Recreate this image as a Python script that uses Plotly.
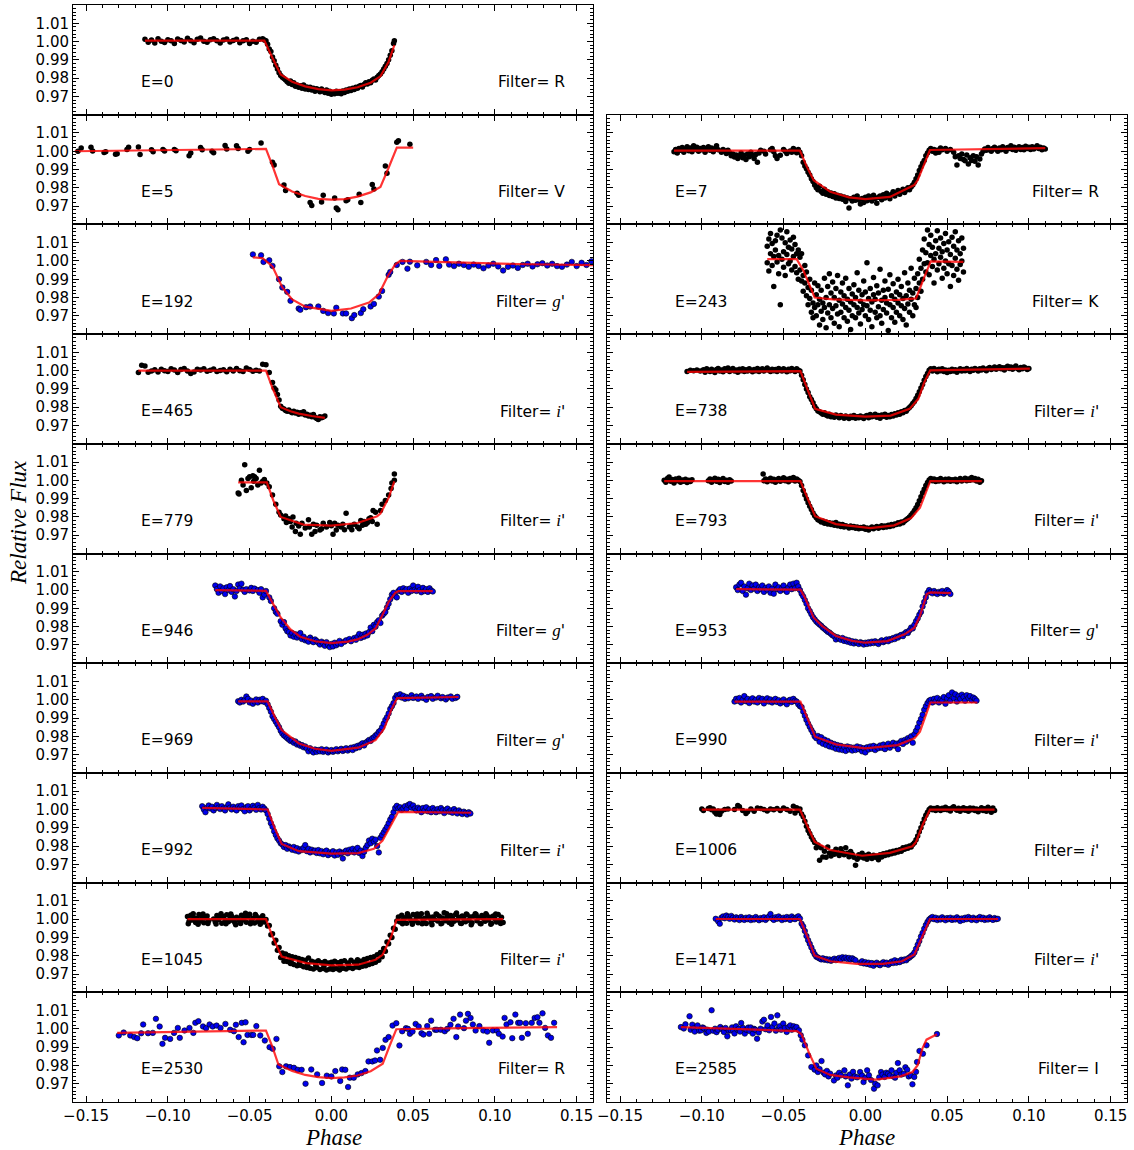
import plotly.graph_objects as go

# ---------------- data: (phase, relative flux) ----------------
E0_points = [(-0.114,1.0012),(-0.112,0.9996),(-0.110,1.0008),(-0.108,0.9992),(-0.106,1.0015),(-0.104,1.0002),(-0.102,0.9995),(-0.100,1.0010),(-0.098,1.0004),(-0.096,0.9990),(-0.094,1.0014),(-0.092,1.0006),(-0.090,0.9998),(-0.088,1.0018),(-0.086,1.0005),(-0.084,0.9994),(-0.082,1.0012),(-0.080,1.0020),(-0.078,1.0002),(-0.076,0.9996),(-0.074,1.0010),(-0.072,1.0016),(-0.070,1.0004),(-0.068,0.9992),(-0.066,1.0008),(-0.064,1.0014),(-0.062,0.9998),(-0.060,1.0006),(-0.058,1.0012),(-0.056,0.9994),(-0.054,1.0004),(-0.052,1.0010),(-0.050,0.9990),(-0.048,1.0002),(-0.046,0.9996),(-0.044,1.0012),(-0.042,1.0015),(-0.041,1.0008),(-0.040,1.0004),
 (-0.039,0.9985),(-0.038,0.9960),(-0.037,0.9945),(-0.036,0.9915),(-0.035,0.9895),(-0.034,0.9870),(-0.033,0.9850),(-0.032,0.9830),(-0.031,0.9815),(-0.030,0.9805),(-0.029,0.9798),(-0.028,0.9790),(-0.027,0.9780),(-0.026,0.9772),(-0.025,0.9785),(-0.024,0.9765),(-0.023,0.9775),(-0.022,0.9755),(-0.021,0.9762),(-0.020,0.9750),(-0.019,0.9758),(-0.018,0.9745),(-0.017,0.9762),(-0.016,0.9740),(-0.015,0.9752),(-0.014,0.9738),(-0.013,0.9750),(-0.012,0.9735),(-0.011,0.9745),(-0.010,0.9728),(-0.009,0.9742),(-0.008,0.9735),(-0.007,0.9725),(-0.006,0.9740),(-0.005,0.9730),(-0.004,0.9722),(-0.003,0.9735),(-0.002,0.9718),(-0.001,0.9728),(0.000,0.9712),(0.001,0.9722),(0.002,0.9715),(0.003,0.9728),(0.004,0.9718),(0.005,0.9725),(0.006,0.9715),(0.007,0.9730),(0.008,0.9722),(0.009,0.9735),(0.010,0.9728),(0.011,0.9740),(0.012,0.9732),(0.013,0.9745),(0.014,0.9738),(0.015,0.9750),(0.016,0.9745),(0.017,0.9755),(0.018,0.9760),(0.019,0.9752),(0.020,0.9765),(0.021,0.9775),(0.022,0.9768),(0.023,0.9780),(0.024,0.9775),(0.025,0.9788),(0.026,0.9795),(0.027,0.9790),(0.028,0.9805),(0.029,0.9815),(0.030,0.9822),(0.031,0.9835),(0.032,0.9850),(0.033,0.9865),(0.034,0.9880),(0.035,0.9900),(0.036,0.9925),(0.037,0.9950),(0.038,0.9990),(0.0385,1.0005)]
E0_model = [(-0.114,1.0005),(-0.041,1.0005),(-0.036,0.9910),(-0.031,0.9820),(-0.024,0.9780),(-0.016,0.9755),(-0.008,0.9740),(0.000,0.9733),(0.008,0.9737),(0.016,0.9750),(0.024,0.9775),(0.030,0.9810),(0.035,0.9890),(0.0385,0.9980)]

E5_points = [(-0.155,1.0000),(-0.153,1.0018),(-0.147,1.0022),(-0.146,1.0002),(-0.139,0.9993),(-0.138,0.9998),(-0.132,0.9983),(-0.131,0.9986),(-0.125,1.0010),(-0.124,1.0022),(-0.118,1.0023),(-0.117,0.9982),(-0.110,1.0008),(-0.109,0.9998),(-0.103,1.0010),(-0.102,1.0002),(-0.096,1.0010),(-0.095,1.0003),(-0.087,0.9975),(-0.086,0.9990),(-0.080,1.0020),(-0.079,1.0008),(-0.073,1.0000),(-0.072,0.9992),(-0.065,1.0032),(-0.064,1.0012),(-0.058,1.0030),(-0.057,1.0015),(-0.051,1.0000),(-0.050,1.0010),(-0.043,1.0045),(-0.036,0.9940),(-0.035,0.9925),(-0.029,0.9815),(-0.028,0.9785),(-0.021,0.9770),(-0.020,0.9760),(-0.013,0.9720),(-0.012,0.9703),(-0.006,0.9722),(-0.005,0.9760),(0.002,0.9745),(0.003,0.9690),(0.004,0.9680),(0.009,0.9730),(0.010,0.9735),(0.017,0.9765),(0.018,0.9720),(0.025,0.9818),(0.026,0.9793),(0.033,0.9920),(0.034,0.9880),(0.040,1.0050),(0.041,1.0057),(0.048,1.0038)]
E5_model = [(-0.157,1.0000),(-0.100,1.0007),(-0.040,1.0013),(-0.036,0.9920),(-0.032,0.9820),(-0.024,0.9780),(-0.016,0.9755),(-0.008,0.9740),(0.000,0.9735),(0.008,0.9738),(0.016,0.9752),(0.024,0.9775),(0.030,0.9805),(0.035,0.9910),(0.040,1.0020),(0.050,1.0020)]

E192_points = [(-0.048,1.0036),(-0.043,1.0031),(-0.0415,0.9995),(-0.038,1.0004),(-0.036,0.9973),(-0.032,0.9900),(-0.030,0.9855),(-0.027,0.9831),(-0.025,0.9782),(-0.020,0.9740),(-0.019,0.9733),(-0.0155,0.9747),(-0.013,0.9751),(-0.008,0.9751),(-0.005,0.9727),(-0.002,0.9715),(0.0015,0.9713),(0.003,0.9744),(0.007,0.9713),(0.009,0.9713),(0.0125,0.9687),(0.014,0.9704),(0.018,0.9715),(0.0195,0.9736),(0.024,0.9751),(0.026,0.9765),(0.029,0.9805),(0.031,0.9836),(0.035,0.9924),(0.036,0.9940),(0.040,0.9978),(0.0435,0.9995),(0.0465,0.9958),(0.048,0.9996),(0.0525,0.9976),(0.058,0.9995),(0.061,0.9978),(0.064,1.0005),(0.066,0.9973),(0.070,1.0009),(0.072,0.9980),(0.075,0.9972),(0.078,0.9985),(0.081,0.9978),(0.084,0.9968),(0.087,0.9980),(0.090,0.9972),(0.093,0.9960),(0.096,0.9975),(0.099,0.9985),(0.102,0.9970),(0.105,0.9948),(0.108,0.9968),(0.111,0.9975),(0.114,0.9962),(0.117,0.9978),(0.120,0.9985),(0.123,0.9970),(0.126,0.9982),(0.129,0.9988),(0.132,0.9975),(0.135,0.9985),(0.138,0.9972),(0.141,0.9968),(0.144,0.9980),(0.147,0.9995),(0.150,0.9972),(0.153,0.9990),(0.156,0.9978),(0.159,0.9998)]
E192_model = [(-0.048,1.0020),(-0.042,1.0015),(-0.036,0.9970),(-0.030,0.9855),(-0.024,0.9790),(-0.016,0.9750),(0.000,0.9727),(0.012,0.9740),(0.023,0.9773),(0.029,0.9818),(0.0345,0.9918),(0.039,0.9980),(0.042,1.0000),(0.080,0.9990),(0.120,0.9982),(0.160,0.9977)]

E465_points = [(-0.118,0.9990),(-0.116,1.0030),(-0.114,1.0025),(-0.112,0.9992),(-0.110,0.9998),(-0.108,1.0005),(-0.106,0.9993),(-0.104,1.0008),(-0.102,1.0000),(-0.100,0.9995),(-0.098,1.0010),(-0.096,1.0003),(-0.094,0.9990),(-0.092,1.0006),(-0.090,1.0012),(-0.088,0.9998),(-0.086,0.9985),(-0.084,0.9993),(-0.082,1.0008),(-0.080,1.0004),(-0.078,1.0010),(-0.076,0.9997),(-0.074,1.0002),(-0.072,1.0009),(-0.070,0.9996),(-0.068,1.0001),(-0.066,1.0005),(-0.064,0.9994),(-0.062,1.0008),(-0.060,0.9998),(-0.058,1.0012),(-0.056,1.0000),(-0.054,0.9995),(-0.052,1.0015),(-0.050,1.0006),(-0.048,0.9997),(-0.046,1.0002),(-0.044,0.9998),(-0.042,1.0035),(-0.040,1.0032),
 (-0.038,0.9990),(-0.036,0.9935),(-0.035,0.9905),(-0.034,0.9895),(-0.033,0.9870),(-0.032,0.9840),(-0.031,0.9805),(-0.030,0.9795),(-0.029,0.9790),(-0.028,0.9782),(-0.027,0.9778),(-0.026,0.9785),(-0.025,0.9775),(-0.024,0.9770),(-0.023,0.9778),(-0.022,0.9768),(-0.021,0.9772),(-0.020,0.9762),(-0.019,0.9770),(-0.018,0.9765),(-0.017,0.9775),(-0.016,0.9758),(-0.015,0.9762),(-0.014,0.9752),(-0.013,0.9756),(-0.012,0.9748),(-0.011,0.9760),(-0.010,0.9745),(-0.009,0.9738),(-0.008,0.9733),(-0.007,0.9748),(-0.006,0.9742),(-0.005,0.9746),(-0.004,0.9752)]
E465_model = [(-0.118,1.0000),(-0.040,1.0000),(-0.036,0.9905),(-0.031,0.9800),(-0.025,0.9778),(-0.020,0.9765),(-0.012,0.9752),(-0.004,0.9742)]

E779_points = [(-0.057,0.9931),(-0.0565,0.9925),(-0.055,1.0000),(-0.054,0.9975),(-0.053,1.0085),(-0.052,0.9945),(-0.051,1.0010),(-0.050,1.0020),(-0.049,0.9960),(-0.048,1.0025),(-0.0475,0.9995),(-0.047,1.0020),(-0.046,1.0010),(-0.045,0.9975),(-0.044,1.0055),(-0.043,0.9985),(-0.042,0.9995),(-0.041,1.0005),(-0.0395,0.9985),(-0.038,0.9965),(-0.036,0.9920),(-0.034,0.9870),(-0.032,0.9825),(-0.031,0.9810),(-0.029,0.9790),(-0.028,0.9805),(-0.0275,0.9770),(-0.026,0.9790),(-0.025,0.9775),(-0.024,0.9745),(-0.0235,0.9800),(-0.022,0.9720),(-0.0215,0.9765),(-0.020,0.9750),(-0.019,0.9705),(-0.018,0.9765),(-0.016,0.9740),(-0.014,0.9785),(-0.0135,0.9745),(-0.012,0.9705),(-0.011,0.9760),(-0.010,0.9720),(-0.009,0.9755),(-0.007,0.9728),(-0.006,0.9735),(-0.005,0.9765),(-0.003,0.9745),(-0.001,0.9770),(0.000,0.9752),(0.001,0.9705),(0.002,0.9765),(0.003,0.9728),(0.004,0.9755),(0.006,0.9745),(0.007,0.9760),(0.008,0.9730),(0.009,0.9820),(0.011,0.9745),(0.012,0.9752),(0.0125,0.9730),(0.014,0.9760),(0.016,0.9745),(0.017,0.9735),(0.018,0.9780),(0.019,0.9755),(0.020,0.9775),(0.021,0.9760),(0.022,0.9768),(0.023,0.9790),(0.024,0.9795),(0.025,0.9775),(0.0255,0.9835),(0.027,0.9825),(0.028,0.9760),(0.030,0.9835),(0.031,0.9870),(0.033,0.9890),(0.035,0.9920),(0.0365,0.9955),(0.037,0.9985),(0.0385,1.0035),(0.0385,1.0000)]
E779_model = [(-0.057,0.9989),(-0.0395,0.9989),(-0.0355,0.9890),(-0.031,0.9800),(-0.017,0.9758),(0.000,0.9753),(0.016,0.9767),(0.028,0.9804),(0.030,0.9818),(0.035,0.9904),(0.0385,0.9995)]

E946_points = [(-0.071,1.0025),(-0.070,1.0005),(-0.069,0.9985),(-0.068,1.0020),(-0.067,0.9995),(-0.066,1.0010),(-0.065,0.9978),(-0.064,1.0015),(-0.063,1.0000),(-0.062,1.0022),(-0.061,0.9990),(-0.060,1.0005),(-0.059,0.9965),(-0.058,0.9995),(-0.057,1.0030),(-0.056,1.0010),(-0.055,1.0035),(-0.054,1.0002),(-0.053,0.9990),(-0.052,1.0005),(-0.050,0.9998),(-0.049,1.0012),(-0.048,0.9995),(-0.047,1.0008),(-0.045,1.0000),(-0.044,0.9985),(-0.043,1.0005),(-0.042,0.9960),(-0.041,0.9975),(-0.040,0.9995),(-0.038,0.9960),(-0.037,0.9940),(-0.035,0.9900),(-0.034,0.9880),(-0.033,0.9870),(-0.031,0.9830),(-0.030,0.9810),(-0.029,0.9825),(-0.028,0.9790),(-0.027,0.9775),(-0.026,0.9770),(-0.025,0.9752),(-0.024,0.9765),(-0.023,0.9745),(-0.022,0.9758),(-0.021,0.9740),(-0.020,0.9752),(-0.019,0.9765),(-0.018,0.9732),(-0.017,0.9745),(-0.016,0.9725),(-0.015,0.9730),(-0.014,0.9718),(-0.013,0.9740),(-0.012,0.9728),(-0.011,0.9715),(-0.010,0.9730),(-0.009,0.9722),(-0.008,0.9712),(-0.007,0.9702),(-0.006,0.9718),(-0.005,0.9708),(-0.004,0.9695),(-0.003,0.9715),(-0.002,0.9700),(-0.001,0.9688),(0.000,0.9705),(0.001,0.9692),(0.002,0.9712),(0.003,0.9698),(0.004,0.9708),(0.005,0.9722),(0.006,0.9705),(0.008,0.9718),(0.009,0.9725),(0.011,0.9732),(0.012,0.9720),(0.014,0.9738),(0.015,0.9728),(0.016,0.9745),(0.017,0.9760),(0.018,0.9738),(0.019,0.9755),(0.020,0.9745),(0.021,0.9762),(0.022,0.9752),(0.023,0.9770),(0.024,0.9795),(0.025,0.9775),(0.026,0.9810),(0.027,0.9800),(0.028,0.9825),(0.029,0.9835),(0.030,0.9820),(0.031,0.9860),(0.032,0.9870),(0.033,0.9880),(0.034,0.9905),(0.035,0.9925),(0.036,0.9950),(0.037,0.9975),(0.038,0.9985),(0.039,0.9968),(0.040,0.9960),(0.041,0.9995),(0.042,1.0005),(0.043,0.9990),(0.044,1.0010),(0.045,0.9998),(0.046,1.0005),(0.047,0.9985),(0.048,1.0008),(0.049,0.9995),(0.050,1.0025),(0.051,1.0002),(0.052,0.9995),(0.053,1.0018),(0.054,1.0000),(0.055,0.9988),(0.056,1.0012),(0.057,0.9995),(0.058,1.0005),(0.059,0.9990),(0.060,1.0010),(0.061,0.9998),(0.062,0.9992)]
E946_model = [(-0.071,1.0000),(-0.040,0.9996),(-0.036,0.9930),(-0.031,0.9850),(-0.025,0.9785),(-0.019,0.9745),(-0.010,0.9720),(0.000,0.9710),(0.010,0.9718),(0.016,0.9730),(0.022,0.9755),(0.027,0.9790),(0.031,0.9860),(0.035,0.9935),(0.039,0.9985),(0.041,0.9994),(0.062,0.9994)]

E969_points = [(-0.057,0.9992),(-0.056,0.9985),(-0.055,1.0000),(-0.054,0.9990),(-0.053,0.9998),(-0.052,1.0018),(-0.051,1.0005),(-0.050,0.9985),(-0.049,0.9995),(-0.048,0.9978),(-0.047,0.9990),(-0.046,1.0002),(-0.045,0.9985),(-0.044,1.0000),(-0.043,0.9992),(-0.042,1.0005),(-0.041,0.9988),(-0.040,0.9995),(-0.039,0.9975),(-0.038,0.9955),(-0.037,0.9935),(-0.036,0.9910),(-0.035,0.9895),(-0.034,0.9880),(-0.033,0.9865),(-0.032,0.9850),(-0.031,0.9830),(-0.030,0.9815),(-0.029,0.9805),(-0.028,0.9798),(-0.027,0.9790),(-0.026,0.9782),(-0.025,0.9775),(-0.024,0.9778),(-0.023,0.9765),(-0.022,0.9772),(-0.021,0.9755),(-0.020,0.9760),(-0.019,0.9748),(-0.018,0.9752),(-0.017,0.9740),(-0.016,0.9745),(-0.015,0.9733),(-0.014,0.9718),(-0.013,0.9735),(-0.012,0.9722),(-0.011,0.9712),(-0.010,0.9728),(-0.009,0.9715),(-0.008,0.9725),(-0.007,0.9718),(-0.006,0.9730),(-0.005,0.9715),(-0.004,0.9722),(-0.003,0.9728),(-0.002,0.9712),(-0.001,0.9720),(0.000,0.9725),(0.001,0.9715),(0.002,0.9722),(0.003,0.9730),(0.004,0.9718),(0.005,0.9725),(0.006,0.9732),(0.007,0.9720),(0.008,0.9728),(0.009,0.9735),(0.010,0.9722),(0.011,0.9730),(0.012,0.9738),(0.013,0.9725),(0.014,0.9742),(0.015,0.9735),(0.016,0.9748),(0.017,0.9740),(0.018,0.9755),(0.019,0.9762),(0.020,0.9750),(0.021,0.9765),(0.022,0.9772),(0.023,0.9780),(0.024,0.9775),(0.025,0.9790),(0.026,0.9795),(0.027,0.9805),(0.028,0.9812),(0.029,0.9825),(0.030,0.9832),(0.031,0.9850),(0.032,0.9870),(0.033,0.9890),(0.034,0.9905),(0.035,0.9925),(0.036,0.9950),(0.037,0.9965),(0.038,0.9982),(0.039,1.0010),(0.040,1.0025),(0.041,1.0018),(0.042,1.0030),(0.043,1.0012),(0.044,1.0022),(0.045,1.0005),(0.046,1.0015),(0.047,1.0008),(0.049,1.0025),(0.050,1.0010),(0.052,1.0018),(0.053,1.0005),(0.055,1.0022),(0.056,1.0010),(0.058,1.0000),(0.059,1.0015),(0.061,1.0020),(0.062,1.0005),(0.064,1.0012),(0.065,1.0022),(0.067,1.0008),(0.068,1.0015),(0.070,1.0002),(0.071,1.0012),(0.073,1.0018),(0.074,1.0005),(0.076,1.0010),(0.077,1.0016)]
E969_model = [(-0.057,0.9991),(-0.039,0.9991),(-0.0345,0.9905),(-0.0304,0.9834),(-0.0198,0.9761),(-0.010,0.9732),(0.000,0.9720),(0.0164,0.9738),(0.027,0.9779),(0.0323,0.9843),(0.0366,0.9945),(0.0402,1.0009),(0.0777,1.0015)]

E992_points = [(-0.079,1.0018),(-0.078,1.0000),(-0.077,0.9985),(-0.076,1.0010),(-0.075,1.0022),(-0.074,1.0005),(-0.073,1.0015),(-0.072,0.9995),(-0.071,1.0008),(-0.070,1.0025),(-0.069,1.0010),(-0.068,1.0002),(-0.067,1.0018),(-0.066,1.0005),(-0.065,0.9995),(-0.064,1.0012),(-0.063,1.0028),(-0.062,1.0010),(-0.061,1.0000),(-0.060,1.0015),(-0.059,1.0005),(-0.058,0.9995),(-0.057,1.0018),(-0.056,1.0008),(-0.055,1.0022),(-0.054,1.0002),(-0.053,0.9990),(-0.052,1.0012),(-0.051,1.0018),(-0.050,0.9995),(-0.049,1.0005),(-0.048,1.0020),(-0.047,1.0010),(-0.046,0.9998),(-0.045,1.0025),(-0.044,1.0008),(-0.043,1.0000),(-0.042,1.0015),(-0.041,1.0005),(-0.040,0.9995),(-0.039,0.9975),(-0.038,0.9950),(-0.037,0.9925),(-0.036,0.9905),(-0.035,0.9880),(-0.034,0.9860),(-0.033,0.9842),(-0.032,0.9830),(-0.031,0.9815),(-0.030,0.9808),(-0.029,0.9795),(-0.028,0.9805),(-0.027,0.9785),(-0.026,0.9798),(-0.025,0.9790),(-0.024,0.9780),(-0.023,0.9795),(-0.022,0.9775),(-0.021,0.9788),(-0.020,0.9770),(-0.019,0.9782),(-0.018,0.9778),(-0.017,0.9790),(-0.016,0.9805),(-0.015,0.9772),(-0.014,0.9785),(-0.013,0.9765),(-0.012,0.9780),(-0.011,0.9770),(-0.010,0.9775),(-0.009,0.9762),(-0.008,0.9778),(-0.007,0.9760),(-0.006,0.9772),(-0.005,0.9755),(-0.004,0.9768),(-0.003,0.9775),(-0.002,0.9750),(-0.001,0.9765),(0.000,0.9758),(0.001,0.9772),(0.002,0.9748),(0.003,0.9765),(0.004,0.9752),(0.005,0.9770),(0.006,0.9760),(0.007,0.9732),(0.008,0.9768),(0.009,0.9775),(0.010,0.9760),(0.011,0.9780),(0.012,0.9770),(0.013,0.9785),(0.014,0.9765),(0.015,0.9778),(0.016,0.9790),(0.017,0.9762),(0.018,0.9775),(0.019,0.9745),(0.020,0.9768),(0.021,0.9790),(0.022,0.9805),(0.023,0.9830),(0.024,0.9815),(0.025,0.9840),(0.026,0.9825),(0.027,0.9835),(0.028,0.9800),(0.029,0.9765),(0.030,0.9845),(0.031,0.9860),(0.032,0.9875),(0.033,0.9890),(0.034,0.9905),(0.035,0.9925),(0.036,0.9945),(0.037,0.9960),(0.038,0.9985),(0.039,1.0008),(0.040,1.0020),(0.041,1.0005),(0.042,1.0012),(0.043,0.9998),(0.044,1.0005),(0.045,1.0018),(0.046,1.0002),(0.047,1.0025),(0.048,1.0030),(0.049,1.0010),(0.050,1.0022),(0.051,1.0005),(0.052,0.9995),(0.053,1.0010),(0.054,1.0002),(0.055,0.9985),(0.056,1.0008),(0.057,0.9995),(0.058,1.0012),(0.059,0.9990),(0.060,1.0002),(0.061,0.9985),(0.062,1.0008),(0.063,0.9995),(0.064,0.9985),(0.065,1.0002),(0.066,0.9990),(0.067,1.0008),(0.068,0.9995),(0.069,0.9980),(0.070,0.9998),(0.071,1.0005),(0.072,0.9988),(0.073,0.9995),(0.074,0.9982),(0.075,1.0002),(0.076,0.9990),(0.077,0.9978),(0.078,0.9995),(0.079,0.9985),(0.080,0.9975),(0.081,0.9988),(0.082,0.9980),(0.083,0.9972),(0.084,0.9985),(0.085,0.9978)]
E992_model = [(-0.079,1.0009),(-0.039,1.0000),(-0.035,0.9905),(-0.0304,0.9811),(-0.0198,0.9772),(0.000,0.9758),(0.0164,0.9761),(0.026,0.9785),(0.0313,0.9830),(0.0366,0.9919),(0.0409,0.9987),(0.0855,0.9982)]

E1045_points = [(-0.088,1.0015),(-0.087,0.9988),(-0.086,1.0022),(-0.085,0.9995),(-0.084,1.0008),(-0.083,0.9982),(-0.082,1.0003),(-0.081,1.0025),(-0.080,0.9990),(-0.079,1.0012),(-0.078,0.9980),(-0.077,1.0006),(-0.076,1.0018),(-0.075,0.9992),(-0.072,1.0001),(-0.071,0.9985),(-0.070,1.0020),(-0.069,0.9997),(-0.068,1.0010),(-0.067,0.9978),(-0.066,1.0014),(-0.065,0.9994),(-0.064,1.0024),(-0.063,0.9986),(-0.062,1.0004),(-0.061,1.0016),(-0.060,0.9991),(-0.059,0.9981),(-0.058,1.0011),(-0.057,1.0002),(-0.056,0.9988),(-0.055,1.0021),(-0.054,0.9996),(-0.053,1.0009),(-0.052,0.9983),(-0.051,1.0013),(-0.050,1.0027),(-0.049,0.9993),(-0.048,1.0005),(-0.047,0.9979),(-0.046,1.0017),(-0.045,0.9989),(-0.044,1.0007),(-0.043,0.9998),(-0.042,1.0019),(-0.041,0.9984),
 (-0.0875,0.9975),(-0.0845,1.0030),(-0.0815,0.9972),(-0.0785,1.0028),(-0.0755,0.9976),(-0.0705,0.9973),(-0.0675,1.0030),(-0.0645,0.9975),(-0.0615,1.0028),(-0.0585,0.9970),(-0.0555,0.9976),(-0.0525,1.0032),(-0.0495,0.9975),(-0.0465,1.0026),(-0.0435,0.9972),
 (-0.040,0.9998),(-0.039,0.9962),(-0.038,0.9965),(-0.037,0.9915),(-0.036,0.9920),(-0.035,0.9870),(-0.034,0.9885),(-0.033,0.9830),(-0.032,0.9845),(-0.031,0.9790),(-0.030,0.9815),(-0.029,0.9770),(-0.028,0.9810),(-0.027,0.9768),(-0.026,0.9800),(-0.025,0.9758),(-0.024,0.9795),(-0.023,0.9752),(-0.022,0.9790),(-0.021,0.9745),(-0.020,0.9785),(-0.019,0.9748),(-0.018,0.9780),(-0.017,0.9740),(-0.016,0.9775),(-0.015,0.9735),(-0.014,0.9788),(-0.013,0.9732),(-0.012,0.9770),(-0.011,0.9728),(-0.010,0.9765),(-0.009,0.9735),(-0.008,0.9772),(-0.007,0.9725),(-0.006,0.9762),(-0.005,0.9730),(-0.004,0.9768),(-0.003,0.9722),(-0.002,0.9760),(-0.001,0.9728),(0.000,0.9765),(0.001,0.9725),(0.002,0.9770),(0.003,0.9730),(0.004,0.9762),(0.005,0.9722),(0.006,0.9768),(0.007,0.9732),(0.008,0.9772),(0.009,0.9728),(0.010,0.9760),(0.011,0.9735),(0.012,0.9775),(0.013,0.9730),(0.014,0.9765),(0.015,0.9738),(0.016,0.9778),(0.017,0.9735),(0.018,0.9770),(0.019,0.9742),(0.020,0.9780),(0.021,0.9745),(0.022,0.9785),(0.023,0.9752),(0.024,0.9790),(0.025,0.9758),(0.026,0.9795),(0.027,0.9765),(0.028,0.9805),(0.029,0.9775),(0.030,0.9818),(0.031,0.9795),(0.032,0.9840),(0.033,0.9825),(0.034,0.9875),(0.035,0.9865),(0.036,0.9912),(0.037,0.9900),(0.038,0.9950),(0.039,0.9945),(0.040,0.9990),
 (-0.0295,0.9790),(-0.0245,0.9775),(-0.0195,0.9765),(-0.0145,0.9752),(-0.0095,0.9748),(-0.0045,0.9745),(0.0005,0.9742),(0.0055,0.9748),(0.0105,0.9750),(0.0155,0.9755),(0.0205,0.9762),(0.0255,0.9775),
 (0.041,1.0012),(0.042,0.9985),(0.043,1.0022),(0.044,0.9995),(0.045,1.0008),(0.046,0.9978),(0.047,1.0018),(0.048,1.0003),(0.049,0.9988),(0.050,1.0025),(0.051,0.9992),(0.052,1.0010),(0.053,0.9980),(0.054,1.0015),(0.055,1.0030),(0.056,0.9995),(0.057,1.0005),(0.058,0.9976),(0.059,1.0020),(0.060,1.0008),(0.061,0.9985),(0.062,1.0012),(0.063,0.9998),(0.064,1.0028),(0.065,0.9990),(0.066,1.0016),(0.067,0.9975),(0.068,1.0006),(0.069,1.0035),(0.070,0.9992),(0.071,1.0012),(0.072,0.9982),(0.073,1.0020),(0.074,1.0004),(0.075,0.9988),(0.076,1.0026),(0.077,0.9996),(0.078,1.0010),(0.079,0.9978),(0.080,1.0018),(0.081,1.0002),(0.082,0.9986),(0.083,1.0024),(0.084,0.9994),(0.085,1.0012),(0.086,0.9980),(0.087,1.0016),(0.088,1.0030),(0.089,0.9992),(0.090,1.0008),(0.091,0.9976),(0.092,1.0020),(0.093,1.0004),(0.094,0.9988),(0.095,1.0022),(0.096,0.9996),(0.097,1.0010),(0.098,0.9978),(0.099,1.0018),(0.100,1.0002),(0.101,0.9985),(0.102,1.0025),(0.103,0.9994),(0.104,1.0010),(0.105,0.9982),
 (0.0435,0.9975),(0.0465,1.0030),(0.0495,0.9972),(0.0525,1.0028),(0.0555,0.9975),(0.0585,1.0032),(0.0615,0.9970),(0.0645,1.0025),(0.0675,0.9978),(0.0705,1.0030),(0.0735,0.9972),(0.0765,1.0034),(0.0795,0.9976),(0.0825,1.0028),(0.0855,0.9970),(0.0885,1.0026),(0.0915,0.9975),(0.0945,1.0030),(0.0975,0.9972),(0.1005,1.0028),(0.1035,0.9976)]
E1045_model = [(-0.088,1.0000),(-0.040,1.0000),(-0.036,0.9905),(-0.0304,0.9796),(-0.0155,0.9760),(0.000,0.9747),(0.0164,0.9751),(0.027,0.9778),(0.0313,0.9805),(0.0366,0.9905),(0.0398,0.9996),(0.105,1.0000)]

E2530_points = [(-0.130,0.9964),(-0.127,0.9980),(-0.123,0.9964),(-0.1206,0.9955),(-0.1187,0.9949),(-0.1163,0.9976),(-0.1151,1.0024),(-0.1121,0.9976),(-0.1092,0.9978),(-0.1073,1.0055),(-0.1050,1.0013),(-0.1033,0.9918),(-0.1017,0.9951),(-0.0986,0.9945),(-0.0962,0.9978),(-0.0939,1.0005),(-0.0927,0.9951),(-0.0898,0.9991),(-0.0868,1.0005),(-0.0844,0.9978),(-0.0832,1.0033),(-0.0813,1.0042),(-0.0785,1.0013),(-0.0766,1.0004),(-0.0745,1.0024),(-0.0726,1.0013),(-0.0702,1.0018),(-0.0678,1.0005),(-0.0648,1.0027),(-0.0619,0.9995),(-0.0596,0.9987),(-0.0584,1.0022),(-0.0567,0.9955),(-0.0548,1.0033),(-0.0537,0.9927),(-0.0525,1.0036),(-0.0513,0.9967),(-0.0489,0.9967),(-0.0478,0.9967),(-0.0459,1.0015),(-0.0435,0.9964),(-0.0407,0.9936),(-0.0378,0.9900),(-0.0359,0.9891),(-0.0336,0.9945),(-0.0319,0.9795),(-0.0300,0.9764),(-0.0277,0.9795),(-0.0253,0.9791),(-0.0229,0.9787),(-0.0206,0.9776),(-0.0182,0.9776),(-0.0158,0.9700),(-0.0123,0.9778),(-0.0087,0.9751),(-0.0057,0.9704),(-0.0028,0.9744),(0.0000,0.9740),(0.0024,0.9769),(0.0054,0.9715),(0.0066,0.9778),(0.0085,0.9776),(0.0102,0.9682),(0.0113,0.9733),(0.0137,0.9733),(0.0161,0.9751),(0.0184,0.9758),(0.0208,0.9769),(0.0227,0.9822),(0.0251,0.9822),(0.0267,0.9827),(0.0279,0.9882),(0.0298,0.9831),(0.0314,0.9896),(0.0331,0.9940),(0.0350,0.9955),(0.0374,1.0018),(0.0397,1.0031),(0.0416,0.9909),(0.0433,0.9987),(0.0456,1.0004),(0.0468,1.0000),(0.0480,0.9973),(0.0496,0.9985),(0.0515,1.0027),(0.0534,1.0013),(0.0551,0.9976),(0.0563,0.9969),(0.0586,1.0015),(0.0598,0.9973),(0.0610,1.0045),(0.0634,0.9995),(0.0645,0.9995),(0.0669,0.9995),(0.0693,0.9987),(0.0709,1.0000),(0.0728,1.0022),(0.0747,1.0055),(0.0764,0.9955),(0.0775,1.0013),(0.0787,1.0078),(0.0811,1.0004),(0.0823,1.0045),(0.0835,1.0082),(0.0851,1.0060),(0.0865,1.0024),(0.0882,0.9991),(0.0905,1.0015),(0.0929,0.9991),(0.0953,0.9985),(0.0965,0.9924),(0.0988,0.9991),(0.1012,0.9991),(0.1024,0.9973),(0.1047,0.9958),(0.1059,1.0060),(0.1071,1.0024),(0.1095,1.0036),(0.1106,0.9949),(0.1125,1.0078),(0.1142,1.0033),(0.1154,1.0033),(0.1165,0.9951),(0.1189,1.0031),(0.1201,0.9973),(0.1225,1.0033),(0.1243,1.0060),(0.1260,1.0064),(0.1272,1.0033),(0.1291,1.0085),(0.1307,1.0005),(0.1324,0.9964),(0.1343,0.9951),(0.1362,1.0033)]
E2530_model = [(-0.131,0.9978),(-0.080,0.9985),(-0.040,0.9991),(-0.036,0.9900),(-0.0324,0.9805),(-0.024,0.9770),(-0.016,0.9748),(-0.008,0.9736),(0.000,0.9731),(0.008,0.9735),(0.016,0.9745),(0.024,0.9768),(0.0314,0.9809),(0.0355,0.9905),(0.0397,0.9998),(0.080,1.0004),(0.138,1.0009)]

E7_points = [(-0.117,0.9998),(-0.116,1.0010),(-0.115,0.9990),(-0.114,1.0015),(-0.113,1.0005),(-0.112,1.0020),(-0.111,0.9995),(-0.110,1.0012),(-0.109,1.0025),(-0.108,1.0003),(-0.107,1.0018),(-0.106,0.9998),(-0.105,1.0030),(-0.104,1.0010),(-0.103,1.0022),(-0.102,1.0000),(-0.101,1.0015),(-0.100,1.0008),(-0.099,1.0020),(-0.098,0.9995),(-0.097,1.0012),(-0.096,1.0025),(-0.095,1.0005),(-0.094,1.0018),(-0.093,0.9998),(-0.092,1.0010),(-0.091,1.0030),(-0.090,1.0008),(-0.088,0.9995),(-0.087,1.0010),(-0.086,1.0002),(-0.085,0.9988),(-0.084,1.0005),(-0.083,0.9992),(-0.082,0.9975),(-0.081,0.9985),(-0.080,0.9968),(-0.079,0.9980),(-0.078,0.9960),(-0.077,0.9975),(-0.076,0.9990),(-0.075,0.9965),(-0.074,0.9978),(-0.073,0.9955),(-0.072,0.9985),(-0.071,0.9970),(-0.070,0.9995),(-0.069,0.9978),(-0.068,0.9960),(-0.067,0.9982),(-0.066,0.9940),(-0.065,0.9990),(-0.064,1.0005),(-0.062,1.0000),(-0.061,0.9985),(-0.058,1.0008),(-0.057,1.0015),(-0.056,0.9998),(-0.055,0.9975),(-0.054,0.9960),(-0.052,0.9978),(-0.050,1.0010),(-0.049,1.0000),(-0.048,0.9988),(-0.046,1.0002),(-0.045,0.9995),(-0.044,1.0015),(-0.043,1.0005),(-0.042,0.9992),(-0.041,1.0010),(-0.040,0.9995),
 (-0.039,0.9975),(-0.038,0.9940),(-0.037,0.9920),(-0.036,0.9905),(-0.035,0.9885),(-0.034,0.9870),(-0.033,0.9850),(-0.032,0.9835),(-0.031,0.9815),(-0.030,0.9800),(-0.029,0.9790),(-0.028,0.9808),(-0.027,0.9780),(-0.026,0.9770),(-0.025,0.9792),(-0.024,0.9765),(-0.023,0.9778),(-0.022,0.9758),(-0.021,0.9772),(-0.020,0.9752),(-0.019,0.9768),(-0.018,0.9745),(-0.017,0.9760),(-0.016,0.9742),(-0.015,0.9755),(-0.014,0.9738),(-0.013,0.9750),(-0.012,0.9725),(-0.011,0.9745),(-0.010,0.9690),(-0.009,0.9740),(-0.008,0.9728),(-0.007,0.9748),(-0.006,0.9732),(-0.005,0.9755),(-0.004,0.9735),(-0.003,0.9712),(-0.002,0.9742),(-0.001,0.9720),(0.000,0.9748),(0.001,0.9730),(0.002,0.9755),(0.003,0.9738),(0.004,0.9728),(0.005,0.9760),(0.006,0.9742),(0.007,0.9715),(0.008,0.9748),(0.009,0.9755),(0.010,0.9735),(0.011,0.9762),(0.012,0.9745),(0.013,0.9770),(0.014,0.9752),(0.015,0.9740),(0.016,0.9765),(0.017,0.9778),(0.018,0.9755),(0.019,0.9772),(0.020,0.9785),(0.021,0.9765),(0.022,0.9780),(0.023,0.9792),(0.024,0.9775),(0.025,0.9788),(0.026,0.9800),(0.027,0.9790),(0.028,0.9805),(0.029,0.9815),(0.030,0.9830),(0.031,0.9850),(0.032,0.9870),(0.033,0.9895),(0.034,0.9915),(0.035,0.9935),(0.036,0.9950),(0.037,0.9975),(0.038,0.9990),(0.039,1.0005),(0.040,1.0015),
 (0.041,1.0000),(0.042,1.0010),(0.043,0.9990),(0.044,1.0005),(0.045,0.9995),(0.046,1.0018),(0.047,1.0008),(0.049,1.0015),(0.050,1.0000),(0.052,1.0010),(0.054,0.9995),(0.055,0.9970),(0.056,0.9925),(0.057,0.9975),(0.058,0.9960),(0.059,0.9985),(0.060,0.9955),(0.061,0.9948),(0.062,0.9980),(0.063,0.9930),(0.064,0.9965),(0.065,0.9950),(0.066,0.9975),(0.067,0.9945),(0.068,0.9970),(0.069,0.9925),(0.070,0.9958),(0.071,0.9985),(0.072,1.0000),(0.073,1.0012),(0.074,1.0005),(0.075,1.0020),(0.076,1.0008),(0.077,1.0000),(0.078,1.0015),(0.079,1.0022),(0.080,1.0010),(0.081,1.0000),(0.082,1.0018),(0.083,1.0008),(0.084,1.0025),(0.085,1.0012),(0.086,1.0000),(0.087,1.0020),(0.088,1.0015),(0.089,1.0030),(0.090,1.0010),(0.091,1.0022),(0.092,1.0005),(0.093,1.0018),(0.094,1.0025),(0.095,1.0010),(0.096,1.0020),(0.097,1.0008),(0.098,1.0028),(0.099,1.0015),(0.100,1.0022),(0.101,1.0010),(0.102,1.0025),(0.103,1.0012),(0.104,1.0020),(0.105,1.0030),(0.106,1.0015),(0.107,1.0022),(0.108,1.0008),(0.109,1.0018),(0.110,1.0012)]
E7_model = [(-0.117,1.0004),(-0.040,1.0004),(-0.036,0.9920),(-0.0316,0.9842),(-0.0214,0.9778),(-0.010,0.9748),(0.000,0.9738),(0.015,0.9750),(0.0299,0.9815),(0.032,0.9842),(0.036,0.9930),(0.0395,1.0007),(0.110,1.0017)]

E243_points = [(-0.060,1.0080),(-0.060,0.9990),(-0.059,1.0120),(-0.059,0.9945),(-0.058,1.0040),(-0.058,1.0150),(-0.057,0.9975),(-0.057,1.0095),(-0.056,1.0025),(-0.056,0.9860),(-0.055,1.0110),(-0.055,1.0060),(-0.054,0.9995),(-0.054,1.0140),(-0.053,1.0030),(-0.053,0.9930),(-0.052,1.0170),(-0.052,0.9760),(-0.051,1.0010),(-0.051,1.0125),(-0.050,0.9965),(-0.050,1.0050),(-0.049,1.0100),(-0.049,0.9920),(-0.048,1.0160),(-0.048,1.0035),(-0.047,0.9985),(-0.047,1.0075),(-0.046,1.0115),(-0.046,1.0000),(-0.045,0.9950),(-0.045,1.0065),(-0.044,1.0025),(-0.044,1.0130),(-0.043,0.9970),(-0.043,1.0090),(-0.042,1.0040),(-0.042,0.9935),(-0.041,1.0060),(-0.041,0.9900),
 (-0.040,1.0020),(-0.040,0.9950),(-0.039,0.9890),(-0.039,1.0040),(-0.038,0.9920),(-0.038,0.9835),(-0.037,0.9975),(-0.037,0.9880),(-0.036,0.9810),(-0.036,0.9940),(-0.035,0.9855),(-0.035,0.9760),(-0.034,0.9900),(-0.034,0.9795),(-0.033,0.9720),(-0.033,0.9840),(-0.032,0.9770),(-0.032,0.9690),(-0.031,0.9880),(-0.031,0.9745),
 (-0.030,0.9815),(-0.030,0.9700),(-0.029,0.9760),(-0.029,0.9865),(-0.028,0.9650),(-0.028,0.9790),(-0.027,0.9725),(-0.027,0.9840),(-0.026,0.9770),(-0.026,0.9680),(-0.025,0.9905),(-0.025,0.9745),(-0.024,0.9800),(-0.024,0.9635),(-0.023,0.9715),(-0.023,0.9860),(-0.022,0.9760),(-0.022,0.9930),(-0.021,0.9690),(-0.021,0.9825),(-0.020,0.9740),(-0.020,0.9885),(-0.019,0.9800),(-0.019,0.9660),(-0.018,0.9755),(-0.018,0.9850),(-0.017,0.9710),(-0.017,0.9920),(-0.016,0.9785),(-0.016,0.9640),(-0.015,0.9830),(-0.015,0.9720),(-0.014,0.9765),(-0.014,0.9880),(-0.013,0.9690),(-0.013,0.9810),(-0.012,0.9745),(-0.012,0.9905),(-0.011,0.9790),(-0.011,0.9670),(-0.010,0.9850),(-0.010,0.9730),(-0.009,0.9775),(-0.009,0.9625),(-0.008,0.9820),(-0.008,0.9700),(-0.007,0.9760),(-0.007,0.9870),(-0.006,0.9690),(-0.006,0.9800),(-0.005,0.9745),(-0.005,0.9935),(-0.004,0.9840),(-0.004,0.9715),(-0.003,0.9780),(-0.003,0.9655),(-0.002,0.9815),(-0.002,0.9735),(-0.001,0.9890),(-0.001,0.9760),(0.000,0.9700),(0.000,0.9830),(0.001,0.9755),(0.001,0.9990),(0.002,0.9795),(0.002,0.9680),(0.003,0.9850),(0.003,0.9730),(0.004,0.9775),(0.004,0.9640),(0.005,0.9815),(0.005,0.9910),(0.006,0.9720),(0.006,0.9790),(0.007,0.9865),(0.007,0.9690),(0.008,0.9750),(0.008,0.9825),(0.009,0.9700),(0.009,0.9955),(0.010,0.9785),(0.010,0.9660),(0.011,0.9840),(0.011,0.9735),(0.012,0.9800),(0.012,0.9890),(0.013,0.9715),(0.013,0.9770),(0.014,0.9845),(0.014,0.9620),(0.015,0.9760),(0.015,0.9925),(0.016,0.9690),(0.016,0.9810),(0.017,0.9745),(0.017,0.9875),(0.018,0.9790),(0.018,0.9665),(0.019,0.9830),(0.019,0.9720),(0.020,0.9770),(0.020,0.9900),(0.021,0.9700),(0.021,0.9815),(0.022,0.9755),(0.022,0.9860),(0.023,0.9680),(0.023,0.9795),(0.024,0.9740),(0.024,0.9935),(0.025,0.9810),(0.025,0.9650),(0.026,0.9765),(0.026,0.9880),(0.027,0.9720),(0.027,0.9840),(0.028,0.9790),(0.028,0.9960),(0.029,0.9700),(0.029,0.9825),(0.030,0.9760),(0.030,0.9905),
 (0.031,0.9850),(0.031,0.9745),(0.032,0.9930),(0.032,0.9800),(0.033,0.9880),(0.033,1.0010),(0.034,0.9835),(0.034,0.9960),(0.035,1.0060),(0.035,0.9900),(0.036,0.9985),(0.036,1.0120),(0.037,0.9940),(0.037,1.0045),(0.038,1.0170),(0.038,0.9990),(0.039,1.0090),(0.039,0.9925),(0.040,1.0030),(0.040,1.0140),(0.041,0.9970),(0.041,1.0075),(0.042,1.0010),(0.042,0.9880),(0.043,1.0110),(0.043,1.0040),(0.044,0.9950),(0.044,1.0165),(0.045,1.0070),(0.045,0.9985),(0.046,1.0020),(0.046,1.0125),(0.047,0.9905),(0.047,1.0050),(0.048,1.0095),(0.048,0.9960),(0.049,1.0000),(0.049,1.0150),(0.050,1.0060),(0.050,0.9930),(0.051,1.0105),(0.051,0.9985),(0.052,1.0035),(0.052,0.9860),(0.053,1.0130),(0.053,0.9975),(0.054,1.0080),(0.054,0.9920),(0.055,1.0015),(0.055,1.0160),(0.056,0.9955),(0.056,1.0060),(0.057,1.0110),(0.057,0.9895),(0.058,1.0040),(0.058,0.9980),(0.059,1.0125),(0.059,1.0000),(0.060,1.0070),(0.060,0.9940)]
E243_model = [(-0.060,1.0010),(-0.042,1.0010),(-0.038,0.9950),(-0.031,0.9800),(-0.020,0.9790),(0.000,0.9785),(0.020,0.9787),(0.031,0.9795),(0.036,0.9910),(0.040,0.9998),(0.060,0.9995)]

E738_points = [(-0.109,0.9995),(-0.107,1.0002),(-0.105,1.0000),(-0.103,1.0004),(-0.101,0.9998),(-0.099,1.0005),(-0.098,0.9992),(-0.097,1.0010),(-0.096,1.0002),(-0.095,0.9995),(-0.094,1.0008),(-0.093,1.0000),(-0.092,0.9990),(-0.091,1.0006),(-0.090,1.0012),(-0.089,0.9998),(-0.088,1.0004),(-0.087,0.9994),(-0.086,1.0010),(-0.085,1.0002),(-0.084,1.0015),(-0.083,0.9996),(-0.082,1.0005),(-0.081,1.0012),(-0.080,0.9998),(-0.079,1.0004),(-0.078,0.9992),(-0.077,1.0008),(-0.076,1.0000),(-0.075,1.0010),(-0.074,0.9995),(-0.073,1.0005),(-0.072,0.9998),(-0.071,1.0010),(-0.070,1.0002),(-0.069,0.9994),(-0.068,1.0006),(-0.067,1.0000),(-0.066,1.0012),(-0.065,0.9996),(-0.064,1.0004),(-0.063,1.0010),(-0.062,0.9998),(-0.061,1.0005),(-0.060,1.0015),(-0.059,1.0002),(-0.058,0.9995),(-0.057,1.0008),(-0.056,1.0000),(-0.055,1.0006),(-0.054,0.9996),(-0.053,1.0012),(-0.052,1.0004),(-0.051,0.9998),(-0.050,1.0010),(-0.049,1.0002),(-0.048,0.9994),(-0.047,1.0008),(-0.046,1.0000),(-0.045,1.0012),(-0.044,1.0004),(-0.043,0.9996),(-0.042,1.0010),(-0.041,1.0002),(-0.040,0.9998),
 (-0.039,0.9975),(-0.038,0.9950),(-0.037,0.9925),(-0.036,0.9900),(-0.035,0.9880),(-0.034,0.9858),(-0.033,0.9842),(-0.032,0.9825),(-0.031,0.9805),(-0.030,0.9792),(-0.029,0.9780),(-0.028,0.9775),(-0.027,0.9768),(-0.026,0.9762),(-0.025,0.9770),(-0.024,0.9758),(-0.023,0.9752),(-0.022,0.9762),(-0.021,0.9748),(-0.020,0.9755),(-0.019,0.9745),(-0.018,0.9758),(-0.017,0.9750),(-0.016,0.9742),(-0.015,0.9755),(-0.014,0.9748),(-0.013,0.9740),(-0.012,0.9752),(-0.011,0.9745),(-0.010,0.9738),(-0.009,0.9750),(-0.008,0.9744),(-0.007,0.9755),(-0.006,0.9740),(-0.005,0.9748),(-0.004,0.9742),(-0.003,0.9752),(-0.002,0.9745),(-0.001,0.9738),(0.000,0.9750),(0.001,0.9755),(0.002,0.9742),(0.003,0.9760),(0.004,0.9748),(0.005,0.9752),(0.006,0.9762),(0.007,0.9745),(0.008,0.9755),(0.009,0.9740),(0.010,0.9758),(0.011,0.9750),(0.012,0.9762),(0.013,0.9745),(0.014,0.9755),(0.015,0.9748),(0.016,0.9760),(0.017,0.9752),(0.018,0.9765),(0.019,0.9758),(0.020,0.9770),(0.021,0.9762),(0.022,0.9775),(0.023,0.9770),(0.024,0.9782),(0.025,0.9778),(0.026,0.9790),(0.027,0.9798),(0.028,0.9808),(0.029,0.9820),(0.030,0.9832),(0.031,0.9848),(0.032,0.9865),(0.033,0.9885),(0.034,0.9905),(0.035,0.9925),(0.036,0.9948),(0.037,0.9968),(0.038,0.9985),(0.039,1.0002),(0.040,1.0010),
 (0.041,0.9998),(0.042,1.0012),(0.043,1.0004),(0.044,0.9994),(0.045,1.0008),(0.046,1.0000),(0.047,1.0010),(0.048,0.9996),(0.049,1.0004),(0.050,0.9990),(0.051,1.0002),(0.052,0.9995),(0.053,1.0008),(0.054,0.9998),(0.055,1.0005),(0.056,0.9992),(0.057,1.0002),(0.058,1.0010),(0.059,0.9998),(0.060,1.0006),(0.061,1.0000),(0.062,1.0012),(0.063,1.0004),(0.064,0.9996),(0.065,1.0008),(0.066,1.0002),(0.067,1.0012),(0.068,1.0006),(0.069,0.9998),(0.070,1.0010),(0.071,1.0004),(0.072,1.0014),(0.073,1.0006),(0.074,1.0000),(0.075,1.0012),(0.076,1.0018),(0.077,1.0006),(0.078,1.0012),(0.079,1.0020),(0.080,1.0008),(0.081,1.0014),(0.082,1.0022),(0.083,1.0010),(0.084,1.0016),(0.085,1.0004),(0.086,1.0018),(0.087,1.0024),(0.088,1.0012),(0.089,1.0020),(0.090,1.0008),(0.091,1.0016),(0.092,1.0025),(0.093,1.0012),(0.094,1.0005),(0.095,1.0018),(0.096,1.0010),(0.097,1.0020),(0.098,1.0014),(0.099,1.0006),(0.100,1.0012)]
E738_model = [(-0.109,0.9993),(-0.0397,0.9998),(-0.035,0.9890),(-0.0307,0.9791),(-0.018,0.9760),(0.000,0.9749),(0.0155,0.9754),(0.0271,0.9791),(0.0324,0.9846),(0.036,0.9935),(0.0397,1.0002),(0.1006,1.0011)]

E793_points = [(-0.123,1.0000),(-0.122,0.9990),(-0.121,1.0010),(-0.120,1.0018),(-0.119,0.9995),(-0.118,1.0005),(-0.117,0.9985),(-0.116,1.0008),(-0.115,0.9998),(-0.114,1.0012),(-0.113,0.9990),(-0.112,1.0002),(-0.111,0.9995),(-0.110,1.0006),(-0.109,0.9988),(-0.108,1.0000),(-0.107,0.9994),(-0.106,1.0004),
 (-0.096,0.9998),(-0.095,1.0008),(-0.094,0.9990),(-0.093,1.0004),(-0.092,1.0012),(-0.091,0.9995),(-0.090,1.0006),(-0.089,0.9988),(-0.088,1.0002),(-0.087,1.0010),(-0.086,0.9994),(-0.085,1.0000),(-0.084,0.9990),(-0.083,1.0004),(-0.082,0.9996),
 (-0.0625,1.0035),
 (-0.062,0.9998),(-0.061,1.0008),(-0.060,0.9992),(-0.059,1.0004),(-0.058,1.0012),(-0.057,0.9996),(-0.056,1.0006),(-0.055,0.9990),(-0.054,1.0002),(-0.053,1.0010),(-0.052,0.9995),(-0.051,1.0004),(-0.050,1.0014),(-0.049,0.9998),(-0.048,1.0006),(-0.047,0.9992),(-0.046,1.0010),(-0.045,1.0002),(-0.044,1.0016),(-0.043,0.9996),(-0.042,1.0008),(-0.041,1.0000),(-0.040,0.9994),
 (-0.039,0.9972),(-0.038,0.9945),(-0.037,0.9920),(-0.036,0.9898),(-0.035,0.9878),(-0.034,0.9858),(-0.033,0.9840),(-0.032,0.9822),(-0.031,0.9806),(-0.030,0.9795),(-0.029,0.9785),(-0.028,0.9780),(-0.027,0.9772),(-0.026,0.9778),(-0.025,0.9765),(-0.024,0.9772),(-0.023,0.9762),(-0.022,0.9768),(-0.021,0.9758),(-0.020,0.9765),(-0.019,0.9755),(-0.018,0.9770),(-0.017,0.9752),(-0.016,0.9760),(-0.015,0.9748),(-0.014,0.9758),(-0.013,0.9745),(-0.012,0.9752),(-0.011,0.9748),(-0.010,0.9740),(-0.009,0.9750),(-0.008,0.9742),(-0.007,0.9748),(-0.006,0.9738),(-0.005,0.9745),(-0.004,0.9735),(-0.003,0.9742),(-0.002,0.9738),(-0.001,0.9745),(0.000,0.9732),(0.001,0.9740),(0.002,0.9728),(0.003,0.9738),(0.004,0.9745),(0.005,0.9735),(0.006,0.9742),(0.007,0.9748),(0.008,0.9738),(0.009,0.9745),(0.010,0.9752),(0.011,0.9742),(0.012,0.9750),(0.013,0.9745),(0.014,0.9755),(0.015,0.9748),(0.016,0.9758),(0.017,0.9752),(0.018,0.9762),(0.019,0.9758),(0.020,0.9768),(0.021,0.9762),(0.022,0.9772),(0.023,0.9768),(0.024,0.9778),(0.025,0.9785),(0.026,0.9792),(0.027,0.9800),(0.028,0.9810),(0.029,0.9822),(0.030,0.9835),(0.031,0.9850),(0.032,0.9868),(0.033,0.9888),(0.034,0.9910),(0.035,0.9932),(0.036,0.9952),(0.037,0.9972),(0.038,0.9988),(0.039,1.0002),(0.040,1.0010),
 (0.041,0.9998),(0.042,1.0008),(0.043,0.9994),(0.044,1.0004),(0.045,0.9996),(0.046,1.0010),(0.047,1.0002),(0.048,0.9992),(0.049,1.0006),(0.050,0.9998),(0.051,1.0008),(0.052,0.9995),(0.053,1.0004),(0.054,0.9998),(0.055,1.0006),(0.056,0.9992),(0.057,1.0002),(0.058,1.0010),(0.059,0.9996),(0.060,1.0004),(0.061,1.0012),(0.062,0.9998),(0.063,1.0008),(0.064,1.0000),(0.065,1.0015),(0.066,1.0004),(0.067,1.0010),(0.068,0.9996),(0.069,1.0006),(0.070,0.9990),(0.071,0.9998)]
E793_model = [(-0.123,0.9996),(-0.0397,0.9996),(-0.035,0.9895),(-0.0307,0.9804),(-0.018,0.9761),(0.003,0.9739),(0.0176,0.9754),(0.028,0.9794),(0.0334,0.9850),(0.037,0.9940),(0.0397,0.9996),(0.0712,0.9996)]

E953_points = [(-0.079,1.0015),(-0.078,1.0000),(-0.077,1.0030),(-0.076,1.0040),(-0.075,0.9995),(-0.074,1.0020),(-0.073,0.9975),(-0.072,1.0010),(-0.071,1.0035),(-0.070,1.0000),(-0.069,1.0025),(-0.068,1.0008),(-0.067,1.0030),(-0.066,0.9995),(-0.065,1.0015),(-0.064,1.0005),(-0.063,1.0025),(-0.062,0.9990),(-0.061,1.0012),(-0.060,1.0002),(-0.059,1.0020),(-0.058,0.9985),(-0.057,1.0008),(-0.056,0.9980),(-0.055,1.0030),(-0.054,1.0005),(-0.053,1.0015),(-0.052,0.9995),(-0.051,1.0010),(-0.050,1.0025),(-0.049,1.0000),(-0.048,0.9990),(-0.047,1.0015),(-0.046,1.0030),(-0.045,1.0005),(-0.044,1.0035),(-0.043,1.0010),(-0.042,1.0040),(-0.041,1.0020),(-0.040,1.0000),
 (-0.039,0.9980),(-0.038,0.9965),(-0.037,0.9945),(-0.036,0.9925),(-0.035,0.9900),(-0.034,0.9885),(-0.033,0.9868),(-0.032,0.9852),(-0.031,0.9840),(-0.030,0.9828),(-0.029,0.9820),(-0.028,0.9812),(-0.027,0.9805),(-0.026,0.9795),(-0.025,0.9788),(-0.024,0.9780),(-0.023,0.9772),(-0.022,0.9768),(-0.021,0.9760),(-0.020,0.9752),(-0.019,0.9748),(-0.018,0.9730),(-0.017,0.9742),(-0.016,0.9735),(-0.015,0.9728),(-0.014,0.9738),(-0.013,0.9722),(-0.012,0.9730),(-0.011,0.9718),(-0.010,0.9725),(-0.009,0.9712),(-0.008,0.9720),(-0.007,0.9708),(-0.006,0.9718),(-0.005,0.9712),(-0.004,0.9705),(-0.003,0.9715),(-0.002,0.9710),(-0.001,0.9702),(0.000,0.9712),(0.001,0.9705),(0.002,0.9715),(0.003,0.9708),(0.004,0.9718),(0.005,0.9710),(0.006,0.9720),(0.007,0.9712),(0.008,0.9705),(0.009,0.9718),(0.010,0.9725),(0.011,0.9715),(0.012,0.9722),(0.013,0.9730),(0.014,0.9720),(0.015,0.9732),(0.016,0.9728),(0.017,0.9738),(0.018,0.9732),(0.019,0.9745),(0.020,0.9740),(0.021,0.9750),(0.022,0.9755),(0.023,0.9748),(0.024,0.9762),(0.025,0.9770),(0.026,0.9765),(0.027,0.9780),(0.028,0.9795),(0.029,0.9790),(0.030,0.9810),(0.031,0.9830),(0.032,0.9845),(0.033,0.9865),(0.034,0.9880),(0.035,0.9910),(0.036,0.9935),(0.037,0.9960),(0.038,0.9985),(0.039,1.0000),(0.040,0.9990),(0.041,0.9982),(0.042,0.9995),(0.043,0.9985),(0.044,0.9978),(0.045,0.9990),(0.046,0.9985),(0.047,0.9995),(0.048,0.9980),(0.049,0.9988),(0.050,1.0000),(0.051,0.9992),(0.052,0.9978)]
E953_model = [(-0.079,1.0005),(-0.0397,1.0002),(-0.037,0.9960),(-0.0317,0.9850),(-0.0265,0.9804),(-0.018,0.9749),(-0.008,0.9722),(0.000,0.9712),(0.0134,0.9721),(0.024,0.9758),(0.030,0.9794),(0.0334,0.9859),(0.0376,0.9978),(0.0397,0.9987),(0.0523,0.9983)]

E990_points = [(-0.080,0.9990),(-0.079,1.0005),(-0.078,0.9995),(-0.077,1.0010),(-0.076,0.9985),(-0.075,1.0000),(-0.074,1.0020),(-0.073,0.9992),(-0.072,1.0005),(-0.071,0.9982),(-0.070,0.9998),(-0.069,1.0008),(-0.068,0.9990),(-0.067,1.0000),(-0.066,0.9985),(-0.065,1.0010),(-0.064,0.9995),(-0.063,1.0005),(-0.062,0.9980),(-0.061,0.9998),(-0.060,1.0008),(-0.059,0.9990),(-0.058,1.0002),(-0.057,0.9985),(-0.056,0.9995),(-0.055,1.0005),(-0.054,0.9988),(-0.053,0.9998),(-0.052,0.9980),(-0.051,0.9992),(-0.050,1.0002),(-0.049,0.9985),(-0.048,0.9975),(-0.047,0.9995),(-0.046,1.0000),(-0.045,0.9988),(-0.044,1.0005),(-0.043,0.9995),(-0.042,0.9990),(-0.041,0.9975),(-0.040,0.9965),
 (-0.039,0.9960),(-0.038,0.9935),(-0.037,0.9912),(-0.036,0.9890),(-0.035,0.9870),(-0.034,0.9852),(-0.033,0.9835),(-0.032,0.9820),(-0.031,0.9800),(-0.030,0.9790),(-0.029,0.9802),(-0.028,0.9770),(-0.027,0.9795),(-0.026,0.9760),(-0.025,0.9782),(-0.024,0.9752),(-0.023,0.9775),(-0.022,0.9745),(-0.021,0.9765),(-0.020,0.9740),(-0.019,0.9758),(-0.018,0.9732),(-0.017,0.9752),(-0.016,0.9728),(-0.015,0.9748),(-0.014,0.9725),(-0.013,0.9742),(-0.012,0.9720),(-0.011,0.9745),(-0.010,0.9728),(-0.009,0.9740),(-0.008,0.9722),(-0.007,0.9738),(-0.006,0.9725),(-0.005,0.9745),(-0.004,0.9730),(-0.003,0.9740),(-0.002,0.9718),(-0.001,0.9735),(0.000,0.9712),(0.001,0.9740),(0.002,0.9728),(0.003,0.9745),(0.004,0.9732),(0.005,0.9748),(0.006,0.9725),(0.007,0.9742),(0.008,0.9735),(0.009,0.9750),(0.010,0.9738),(0.011,0.9755),(0.012,0.9730),(0.013,0.9748),(0.014,0.9760),(0.015,0.9738),(0.016,0.9752),(0.017,0.9765),(0.018,0.9748),(0.019,0.9760),(0.020,0.9730),(0.021,0.9765),(0.022,0.9775),(0.023,0.9758),(0.024,0.9780),(0.025,0.9770),(0.026,0.9790),(0.027,0.9782),(0.028,0.9800),(0.029,0.9765),(0.030,0.9812),(0.031,0.9830),(0.032,0.9850),(0.033,0.9875),(0.034,0.9895),(0.035,0.9918),(0.036,0.9945),(0.037,0.9965),(0.038,0.9982),(0.039,0.9995),(0.040,1.0000),
 (0.041,0.9985),(0.042,1.0005),(0.043,0.9992),(0.044,1.0010),(0.045,0.9985),(0.046,1.0002),(0.047,0.9995),(0.048,1.0015),(0.049,0.9978),(0.050,1.0008),(0.051,1.0025),(0.052,0.9995),(0.053,1.0040),(0.054,1.0010),(0.055,1.0030),(0.056,0.9990),(0.057,1.0020),(0.058,1.0005),(0.059,1.0028),(0.060,1.0015),(0.061,0.9995),(0.062,1.0025),(0.063,1.0010),(0.064,1.0020),(0.065,0.9998),(0.066,1.0012),(0.067,1.0005),(0.068,0.9995)]
E990_model = [(-0.080,0.9990),(-0.0397,0.9990),(-0.035,0.9890),(-0.0307,0.9798),(-0.018,0.9756),(0.000,0.9734),(0.0197,0.9752),(0.030,0.9789),(0.0334,0.9826),(0.037,0.9920),(0.0397,0.9985),(0.0685,0.9985)]

E1006_points = [(-0.100,1.0002),(-0.099,0.9995),(-0.096,1.0005),(-0.095,1.0010),(-0.094,0.9998),(-0.093,1.0002),(-0.092,0.9985),(-0.091,0.9975),(-0.090,0.9992),(-0.089,0.9972),(-0.088,0.9990),(-0.086,1.0000),(-0.084,1.0002),(-0.080,1.0000),(-0.078,1.0022),(-0.077,1.0015),(-0.075,0.9995),(-0.073,0.9978),(-0.072,0.9988),(-0.070,1.0002),(-0.068,0.9990),(-0.066,1.0008),(-0.064,1.0005),(-0.062,1.0000),(-0.060,0.9992),(-0.058,1.0002),(-0.056,0.9998),(-0.054,1.0005),(-0.052,0.9995),(-0.050,1.0008),(-0.048,1.0000),(-0.046,0.9990),(-0.044,1.0018),(-0.043,0.9980),(-0.042,1.0010),(-0.041,0.9995),(-0.040,1.0002),
 (-0.039,0.9975),(-0.038,0.9960),(-0.037,0.9935),(-0.036,0.9908),(-0.035,0.9885),(-0.034,0.9868),(-0.033,0.9850),(-0.032,0.9835),(-0.031,0.9820),(-0.030,0.9790),(-0.029,0.9805),(-0.028,0.9722),(-0.027,0.9790),(-0.026,0.9740),(-0.025,0.9772),(-0.024,0.9738),(-0.023,0.9795),(-0.022,0.9762),(-0.021,0.9745),(-0.020,0.9768),(-0.019,0.9755),(-0.018,0.9782),(-0.017,0.9760),(-0.016,0.9748),(-0.015,0.9785),(-0.014,0.9765),(-0.013,0.9752),(-0.012,0.9790),(-0.011,0.9760),(-0.010,0.9742),(-0.009,0.9770),(-0.008,0.9755),(-0.007,0.9738),(-0.006,0.9695),(-0.005,0.9728),(-0.004,0.9752),(-0.003,0.9740),(-0.002,0.9760),(-0.001,0.9735),(0.000,0.9748),(0.001,0.9728),(0.002,0.9755),(0.003,0.9742),(0.004,0.9732),(0.005,0.9750),(0.006,0.9738),(0.007,0.9745),(0.008,0.9725),(0.009,0.9752),(0.010,0.9740),(0.011,0.9758),(0.012,0.9748),(0.013,0.9762),(0.014,0.9752),(0.015,0.9768),(0.016,0.9758),(0.017,0.9772),(0.018,0.9762),(0.019,0.9775),(0.020,0.9768),(0.021,0.9780),(0.022,0.9772),(0.023,0.9790),(0.024,0.9782),(0.025,0.9795),(0.026,0.9788),(0.027,0.9800),(0.028,0.9795),(0.029,0.9808),(0.030,0.9818),(0.031,0.9835),(0.032,0.9855),(0.033,0.9878),(0.034,0.9900),(0.035,0.9925),(0.036,0.9948),(0.037,0.9968),(0.038,0.9985),(0.039,1.0000),(0.040,1.0008),
 (0.041,0.9998),(0.042,1.0005),(0.043,0.9995),(0.044,1.0010),(0.045,1.0002),(0.046,0.9994),(0.047,1.0006),(0.048,1.0000),(0.049,1.0012),(0.050,0.9998),(0.051,1.0004),(0.052,0.9992),(0.053,1.0008),(0.054,1.0015),(0.055,1.0002),(0.056,0.9996),(0.057,1.0006),(0.058,0.9990),(0.059,1.0002),(0.060,1.0010),(0.061,0.9996),(0.062,1.0004),(0.063,0.9990),(0.064,1.0008),(0.065,0.9998),(0.066,1.0006),(0.067,0.9994),(0.068,1.0002),(0.069,0.9988),(0.070,1.0000),(0.071,1.0010),(0.072,0.9995),(0.073,1.0004),(0.074,0.9990),(0.075,1.0012),(0.076,1.0002),(0.077,0.9985),(0.078,1.0008),(0.079,0.9995)]
E1006_model = [(-0.100,0.9999),(-0.040,0.9999),(-0.035,0.9900),(-0.031,0.9823),(-0.0214,0.9778),(-0.002,0.9747),(0.015,0.9763),(0.0288,0.9799),(0.031,0.9823),(0.035,0.9915),(0.0395,0.9999),(0.079,0.9999)]

E1471_points = [(-0.0915,1.0002),(-0.090,0.9988),(-0.089,0.9975),(-0.088,1.0008),(-0.087,1.0015),(-0.086,1.0005),(-0.085,1.0020),(-0.084,1.0012),(-0.083,1.0002),(-0.082,1.0018),(-0.081,1.0008),(-0.080,0.9998),(-0.079,1.0010),(-0.078,1.0004),(-0.077,0.9995),(-0.076,1.0012),(-0.075,1.0002),(-0.074,0.9996),(-0.073,1.0008),(-0.072,1.0000),(-0.071,1.0010),(-0.070,0.9995),(-0.069,1.0005),(-0.068,0.9998),(-0.067,1.0012),(-0.066,1.0002),(-0.065,0.9994),(-0.064,1.0006),(-0.063,1.0000),(-0.062,1.0010),(-0.061,0.9996),(-0.060,1.0005),(-0.059,1.0014),(-0.058,1.0028),(-0.057,1.0004),(-0.056,0.9996),(-0.055,1.0010),(-0.054,1.0002),(-0.053,1.0015),(-0.052,1.0005),(-0.051,0.9995),(-0.050,1.0008),(-0.049,1.0000),(-0.048,1.0012),(-0.047,1.0004),(-0.046,0.9996),(-0.045,1.0015),(-0.044,1.0006),(-0.043,1.0000),(-0.042,1.0010),(-0.041,1.0016),(-0.040,1.0004),
 (-0.039,0.9975),(-0.038,0.9960),(-0.037,0.9935),(-0.036,0.9908),(-0.035,0.9885),(-0.034,0.9865),(-0.033,0.9845),(-0.032,0.9825),(-0.031,0.9808),(-0.030,0.9795),(-0.029,0.9790),(-0.028,0.9785),(-0.027,0.9780),(-0.026,0.9786),(-0.025,0.9778),(-0.024,0.9782),(-0.023,0.9775),(-0.022,0.9780),(-0.021,0.9772),(-0.020,0.9778),(-0.019,0.9784),(-0.018,0.9776),(-0.017,0.9782),(-0.016,0.9788),(-0.015,0.9780),(-0.014,0.9792),(-0.013,0.9785),(-0.012,0.9790),(-0.011,0.9782),(-0.010,0.9788),(-0.009,0.9780),(-0.008,0.9786),(-0.007,0.9780),(-0.006,0.9775),
 (-0.003,0.9762),(-0.002,0.9770),(-0.001,0.9758),(0.000,0.9765),(0.001,0.9755),(0.002,0.9762),(0.003,0.9750),(0.004,0.9760),(0.005,0.9745),(0.006,0.9756),(0.007,0.9762),(0.008,0.9752),(0.009,0.9748),(0.010,0.9758),(0.011,0.9765),(0.012,0.9755),(0.013,0.9762),(0.014,0.9750),(0.015,0.9758),(0.016,0.9768),(0.017,0.9760),(0.018,0.9775),(0.019,0.9762),(0.020,0.9770),(0.021,0.9765),(0.022,0.9778),(0.023,0.9772),(0.024,0.9780),(0.025,0.9775),(0.026,0.9785),(0.027,0.9790),(0.028,0.9798),(0.029,0.9805),(0.030,0.9818),(0.031,0.9838),(0.032,0.9860),(0.033,0.9880),(0.034,0.9905),(0.035,0.9925),(0.036,0.9948),(0.037,0.9968),(0.038,0.9985),(0.039,0.9998),(0.040,1.0006),
 (0.041,1.0012),(0.042,1.0000),(0.043,1.0008),(0.044,0.9995),(0.045,1.0004),(0.046,0.9998),(0.047,1.0010),(0.048,1.0002),(0.049,0.9994),(0.050,1.0006),(0.051,1.0000),(0.052,1.0008),(0.053,0.9996),(0.054,1.0004),(0.055,0.9998),(0.056,1.0010),(0.057,1.0002),(0.058,0.9990),(0.059,1.0004),(0.060,0.9996),(0.061,1.0008),(0.062,1.0000),(0.063,1.0012),(0.064,1.0004),(0.065,0.9996),(0.066,1.0008),(0.067,1.0000),(0.068,0.9994),(0.069,1.0006),(0.070,1.0012),(0.071,1.0000),(0.072,1.0008),(0.073,0.9996),(0.074,1.0004),(0.075,0.9998),(0.076,1.0010),(0.077,1.0002),(0.078,0.9996),(0.079,1.0006),(0.080,1.0000),(0.081,1.0002)]
E1471_model = [(-0.0915,1.0001),(-0.040,1.0001),(-0.035,0.9895),(-0.031,0.9801),(-0.0214,0.9770),(-0.0053,0.9756),(0.0107,0.9756),(0.0224,0.9770),(0.030,0.9807),(0.035,0.9910),(0.0395,1.0001),(0.0812,1.0001)]

E2585_points = [(-0.1128,1.0010),(-0.1110,1.0002),(-0.1100,1.0025),(-0.1075,1.0069),(-0.1068,0.9995),(-0.1058,1.0023),(-0.1050,1.0002),(-0.1043,0.9985),(-0.1026,1.0019),(-0.1015,0.9990),(-0.1004,0.9992),(-0.0995,1.0008),(-0.0987,1.0003),(-0.0972,0.9978),(-0.0965,0.9995),(-0.0957,0.9985),(-0.0940,1.0102),(-0.0930,0.9990),(-0.0919,1.0001),(-0.0910,0.9982),(-0.0902,0.9995),(-0.0887,1.0010),(-0.0875,0.9998),(-0.0865,0.9983),(-0.0855,1.0005),(-0.0844,0.9959),(-0.0835,0.9990),(-0.0823,0.9992),(-0.0815,1.0008),(-0.0808,0.9990),(-0.0800,0.9975),(-0.0791,1.0014),(-0.0782,0.9995),(-0.0774,1.0000),(-0.0766,0.9985),(-0.0759,1.0032),(-0.0748,1.0005),(-0.0737,0.9974),(-0.0727,0.9995),(-0.0716,1.0007),(-0.0708,0.9988),(-0.0701,1.0008),(-0.0688,0.9974),(-0.0680,1.0000),(-0.0673,0.9995),(-0.0662,0.9946),(-0.0652,0.9980),(-0.0641,1.0001),(-0.0630,1.0040),(-0.0620,1.0050),(-0.0610,0.9998),(-0.0598,1.0019),(-0.0588,0.9992),(-0.0577,1.0065),(-0.0568,1.0010),(-0.0556,1.0029),(-0.0547,0.9990),(-0.0538,1.0074),(-0.0530,1.0002),(-0.0524,1.0014),(-0.0515,0.9995),(-0.0502,1.0029),(-0.0492,1.0005),(-0.0481,0.9983),(-0.0470,1.0010),(-0.0459,1.0019),(-0.0450,0.9995),(-0.0438,1.0014),(-0.0430,1.0002),(-0.0421,1.0010),(-0.0406,0.9992),
 (-0.0395,0.9965),(-0.0385,0.9941),(-0.0370,0.9910),(-0.0350,0.9855),(-0.0330,0.9791),(-0.0310,0.9777),(-0.0300,0.9800),(-0.0290,0.9764),(-0.0280,0.9780),(-0.0268,0.9824),(-0.0255,0.9760),(-0.0246,0.9751),(-0.0235,0.9770),(-0.0225,0.9740),(-0.0215,0.9755),(-0.0192,0.9718),(-0.0180,0.9745),(-0.0171,0.9733),(-0.0160,0.9760),(-0.0150,0.9746),(-0.0128,0.9773),(-0.0120,0.9740),(-0.0107,0.9691),(-0.0095,0.9750),(-0.0085,0.9728),(-0.0075,0.9765),(-0.0064,0.9740),(-0.0050,0.9735),(-0.0032,0.9764),(-0.0020,0.9745),(-0.0011,0.9709),(0.0000,0.9732),(0.0011,0.9773),(0.0022,0.9746),(0.0035,0.9720),(0.0053,0.9673),(0.0060,0.9700),(0.0075,0.9691),(0.0085,0.9735),(0.0096,0.9764),(0.0105,0.9750),(0.0118,0.9737),(0.0128,0.9760),(0.0139,0.9755),(0.0150,0.9745),(0.0160,0.9773),(0.0171,0.9740),(0.0182,0.9733),(0.0190,0.9760),(0.0199,0.9813),(0.0210,0.9773),(0.0220,0.9750),(0.0235,0.9755),(0.0245,0.9790),(0.0256,0.9777),(0.0265,0.9740),(0.0278,0.9746),(0.0288,0.9697),(0.0299,0.9737),(0.0310,0.9765),(0.0316,0.9819),(0.0331,0.9879),(0.0352,0.9864),(0.0374,0.9910),(0.0438,0.9972)]
E2585_model = [(-0.1128,1.0010),(-0.0855,1.0002),(-0.0417,0.9988),(-0.0390,0.9970),(-0.0345,0.9870),(-0.0300,0.9782),(-0.0214,0.9748),(-0.0100,0.9735),(0.0000,0.9728),(0.0064,0.9722),(0.0150,0.9732),(0.0214,0.9740),(0.0288,0.9764),(0.0320,0.9801),(0.0350,0.9895),(0.0374,0.9941),(0.0438,0.9970)]

# panel labels
EPOCHS  = ["0", "5", "192", "465", "779", "946", "969", "992", "1045", "2530",
           "7", "243", "738", "793", "953", "990", "1006", "1471", "2585"]
FILTERS = ["R", "V", "g'", "i'", "i'", "g'", "g'", "i'", "i'", "R",
           "R", "K", "i'", "i'", "g'", "i'", "i'", "i'", "I"]
POINTS = [E0_points, E5_points, E192_points, E465_points, E779_points, E946_points, E969_points,
          E992_points, E1045_points, E2530_points, E7_points, E243_points, E738_points, E793_points,
          E953_points, E990_points, E1006_points, E1471_points, E2585_points]
MODELS = [E0_model, E5_model, E192_model, E465_model, E779_model, E946_model, E969_model,
          E992_model, E1045_model, E2530_model, E7_model, E243_model, E738_model, E793_model,
          E953_model, E990_model, E1006_model, E1471_model, E2585_model]
BLUE_SET = {"192", "946", "969", "992", "2530", "953", "990", "1471", "2585"}

# ---------------- layout geometry ----------------
# left column holds rows 1..10, right column rows 2..10
positions = [(0, r) for r in range(1, 11)] + [(1, r) for r in range(2, 11)]
col_dom = [(0.0, 0.4934), (0.5066, 1.0)]

fig = go.Figure()
layout = dict(width=1134, height=1150, margin=dict(l=73, r=7, t=5, b=48),
              paper_bgcolor="white", plot_bgcolor="white", showlegend=False)
annotations = []

def filt_text(f):
    if f.endswith("'"):
        return ("Filter= <span style='font-family:Liberation Serif;font-size:17px'><i>%s</i></span>'" % f[0])
    return "Filter= " + f

for i, (epoch, filt, pts, mdl, (col, row)) in enumerate(zip(EPOCHS, FILTERS, POINTS, MODELS, positions), start=1):
    xs = [p[0] for p in pts]
    ys = [p[1] for p in pts]
    mx = [p[0] for p in mdl]
    my = [p[1] for p in mdl]
    xa = "x" if i == 1 else "x%d" % i
    ya = "y" if i == 1 else "y%d" % i
    blue = epoch in BLUE_SET
    fig.add_trace(go.Scatter(x=xs, y=ys, mode="markers", xaxis=xa, yaxis=ya,
                             marker=dict(size=5.5, color="#0000ee" if blue else "black",
                                         line=dict(color="black", width=0.6 if blue else 0)),
                             hoverinfo="skip"))
    fig.add_trace(go.Scatter(x=mx, y=my, mode="lines", xaxis=xa, yaxis=ya,
                             line=dict(color="rgba(255,0,0,0.8)", width=2.2),
                             hoverinfo="skip"))
    common = dict(showline=True, linecolor="black", linewidth=1, mirror="allticks",
                  ticks="inside", ticklen=6, tickwidth=1, tickcolor="black",
                  showgrid=False, zeroline=False,
                  tickfont=dict(family="DejaVu Sans", size=15, color="black"))
    xkey = "xaxis" if i == 1 else "xaxis%d" % i
    ykey = "yaxis" if i == 1 else "yaxis%d" % i
    layout[xkey] = dict(common, domain=list(col_dom[col]), anchor=ya, range=[-0.158, 0.16],
                        tickmode="linear", tick0=0, dtick=0.05, tickformat=".2f",
                        showticklabels=(row == 10),
                        minor=dict(ticks="inside", dtick=0.01, ticklen=3, tickcolor="black", tickwidth=1, showgrid=False))
    layout[ykey] = dict(common, domain=[1 - row * 0.1, 1 - (row - 1) * 0.1], anchor=xa,
                        range=[0.96, 1.02], tickmode="array",
                        tickvals=[0.97, 0.98, 0.99, 1.00, 1.01],
                        ticktext=["0.97", "0.98", "0.99", "1.00", "1.01"],
                        showticklabels=(col == 0),
                        minor=dict(ticks="inside", tickmode="linear", tick0=0.96, dtick=0.002,
                                   ticklen=3, tickcolor="black", tickwidth=1, showgrid=False))
    annotations.append(dict(x=-0.1176, y=0.9778, xref=xa, yref=ya, text="E=" + epoch,
                            showarrow=False, xanchor="left", yanchor="middle",
                            font=dict(family="DejaVu Sans", size=15.5, color="black")))
    annotations.append(dict(x=0.1439, y=0.9778, xref=xa, yref=ya, text=filt_text(filt),
                            showarrow=False, xanchor="right", yanchor="middle",
                            font=dict(family="DejaVu Sans", size=15.5, color="black")))

annotations.append(dict(x=-0.0522, y=0.5287, xref="paper", yref="paper", text="<i>Relative Flux</i>",
                        showarrow=False, textangle=-90, xanchor="center", yanchor="middle",
                        font=dict(family="Liberation Serif", size=23, color="black")))
for xc in (0.2467, 0.7533):
    annotations.append(dict(x=xc, y=-0.0328, xref="paper", yref="paper", text="<i>Phase</i>",
                            showarrow=False, xanchor="center", yanchor="middle",
                            font=dict(family="Liberation Serif", size=23, color="black")))

layout["annotations"] = annotations
fig.update_layout(**layout)
fig.write_html("out.html", config={"displayModeBar": False, "staticPlot": True},
               post_script="document.body.style.margin='0px';document.body.style.padding='0px';")
